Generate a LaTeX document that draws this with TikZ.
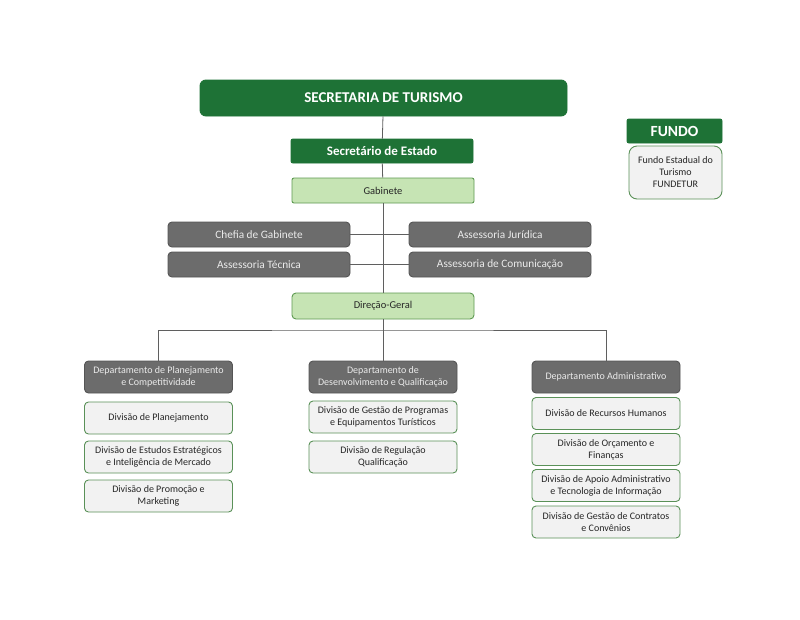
\documentclass[tikz,border=0pt]{standalone}
\usepackage{fontspec}
\setmainfont{Carlito}
\definecolor{dgreen}{HTML}{1E7236}
\definecolor{lgreenfill}{HTML}{C6E4B4}
\definecolor{lgreenline}{HTML}{5E9A52}
\definecolor{boxgray}{HTML}{6C6C6C}
\definecolor{boxgrayline}{HTML}{555555}
\definecolor{divfill}{HTML}{F2F2F2}
\definecolor{divline}{HTML}{5A9158}
\definecolor{conn}{HTML}{5F5F5F}
\begin{document}
\begin{tikzpicture}[x=1pt,y=-1pt,
  base/.style={rectangle, rounded corners=4pt, inner sep=1pt, align=center, line width=0.9pt},
  darkbox/.style={base, fill=dgreen, draw=dgreen, text=white, font=\bfseries},
  lightbox/.style={base, fill=lgreenfill, draw=lgreenline, text=black!85, font=\fontsize{10.5}{12}\selectfont},
  graybox/.style={base, fill=boxgray, draw=boxgrayline, text=white!92!black, font=\fontsize{11.3}{13}\selectfont},
  deptbox/.style={base, fill=boxgray, draw=boxgrayline, text=white!92!black, font=\fontsize{10}{12}\selectfont, minimum width=148, minimum height=32},
  divbox/.style={base, fill=divfill, draw=divline, text=black!85, font=\fontsize{10}{12}\selectfont, minimum width=148, minimum height=32},
  link/.style={draw=conn, line width=0.8pt}
]
\useasboundingbox (0,0) rectangle (800,619);
\fill[white] (0,0) rectangle (800,619);

% top
\node[darkbox, minimum width=367, minimum height=36, font=\fontsize{15}{17}\selectfont\bfseries, rounded corners=6pt] (sec) at (383.5,98) {SECRETARIA DE TURISMO};
\node[darkbox, minimum width=182, minimum height=24, font=\fontsize{13}{15}\selectfont\bfseries, rounded corners=2pt] (se) at (382,151) {Secretário de Estado};
\node[lightbox, minimum width=182, minimum height=25, rounded corners=2pt] (gab) at (383,190.5) {Gabinete};

\node[graybox, minimum width=182, minimum height=25] (chefia) at (259,234.5) {Chefia de Gabinete};
\node[graybox, minimum width=182, minimum height=25] (jur) at (500,234.5) {Assessoria Jurídica};
\node[graybox, minimum width=182, minimum height=25] (tec) at (259,264.5) {Assessoria Técnica};
\node[graybox, minimum width=182, minimum height=25] (com) at (500,264.5) {Assessoria de Comunicação};

\node[lightbox, minimum width=182, minimum height=26] (dg) at (383,306) {Direção-Geral};

% departments
\node[deptbox] (d1) at (158.5,377) {Departamento de Planejamento\\e Competitividade};
\node[deptbox] (d2) at (383,377) {Departamento de\\Desenvolvimento e Qualificação};
\node[deptbox] (d3) at (606,377) {Departamento Administrativo};

% divisions column 1
\node[divbox] (c1a) at (158.5,418) {Divisão de Planejamento};
\node[divbox] (c1b) at (158.5,457) {Divisão de Estudos Estratégicos\\e Inteligência de Mercado};
\node[divbox] (c1c) at (158.5,496) {Divisão de Promoção e\\Marketing};

% column 2
\node[divbox] (c2a) at (383,417) {Divisão de Gestão de Programas\\e Equipamentos Turísticos};
\node[divbox] (c2b) at (383,457) {Divisão de Regulação\\Qualificação};

% column 3
\node[divbox] (c3a) at (606,413.5) {Divisão de Recursos Humanos};
\node[divbox] (c3b) at (606,449.5) {Divisão de Orçamento e\\Finanças};
\node[divbox] (c3c) at (606,485.5) {Divisão de Apoio Administrativo\\e Tecnologia de Informação};
\node[divbox] (c3d) at (606,522) {Divisão de Gestão de Contratos\\e Convênios};

% fundo
\node[darkbox, minimum width=95, minimum height=24, font=\fontsize{15.5}{17}\selectfont\bfseries, rounded corners=2pt] (fundoT) at (674.5,131) {FUNDO};
\node[base, fill=divfill, draw=divline, text=black!85, minimum width=93, minimum height=53, rounded corners=8pt, font=\fontsize{10}{12}\selectfont] (fundoB) at (675.5,172.5) {Fundo Estadual do\\Turismo\\FUNDETUR};

% connectors
\path[link] (sec) -- (se);
\path[link] (se) -- (gab);
\path[link] (gab) -- (dg);
\path[link] (chefia) -- (jur);
\path[link] (tec) -- (com);
\coordinate (bus) at (383,330);
\path[link] (dg) -- (d2);
\path[link] (d1.north) |- (bus) -| (d3.north);
\end{tikzpicture}
\end{document}
